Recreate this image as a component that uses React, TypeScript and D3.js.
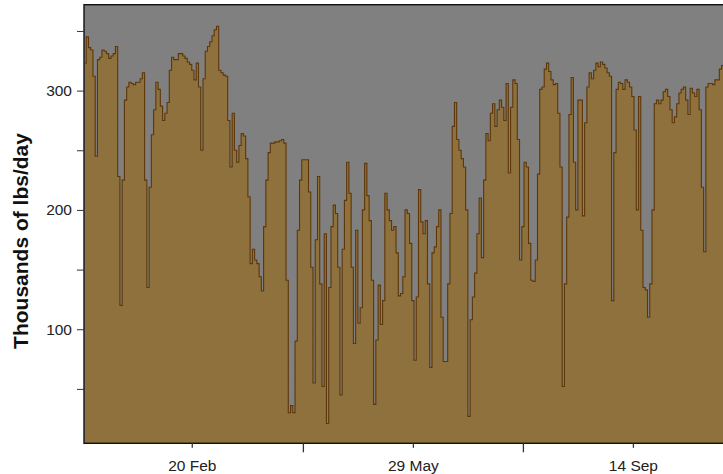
import * as d3 from "d3";
import { useEffect, useRef } from "react";

// daily values, thousands of lbs/day
const dailyValues: number[] = [
  323, 345, 336, 334, 312, 245, 326, 328, 334, 333, 331, 327, 329, 331, 337, 228, 120, 225, 292, 303,
  307, 306, 305, 307, 307, 310, 315, 225, 135, 219, 263, 284, 307, 301, 287, 275, 281, 290, 317, 328,
  326, 326, 331, 331, 329, 327, 324, 322, 317, 309, 323, 303, 250, 310, 333, 337, 341, 346, 351, 354,
  317, 315, 313, 312, 275, 236, 281, 250, 240, 254, 264, 262, 243, 211, 155, 167, 158, 155, 144, 132,
  186, 225, 248, 256, 256, 257, 257, 258, 259, 256, 141, 30, 36, 30, 90, 183, 225, 242, 242, 242,
  215, 152, 55, 175, 228, 138, 52, 180, 21, 135, 186, 204, 197, 152, 45, 167, 208, 240, 214, 152,
  88, 183, 105, 118, 200, 239, 212, 191, 141, 37, 91, 137, 104, 124, 214, 200, 191, 183, 186, 164,
  128, 130, 144, 200, 197, 172, 124, 74, 127, 217, 190, 180, 191, 138, 68, 164, 169, 186, 200, 110,
  73, 73, 138, 197, 270, 290, 259, 250, 243, 236, 200, 27, 108, 127, 147, 180, 210, 160, 225, 264,
  258, 281, 289, 270, 284, 292, 286, 275, 306, 231, 286, 309, 306, 259, 158, 186, 240, 236, 172, 141,
  140, 158, 230, 301, 303, 318, 323, 316, 309, 305, 306, 281, 236, 52, 138, 194, 280, 311, 240, 200,
  292, 292, 195, 273, 303, 315, 310, 317, 323, 320, 324, 322, 319, 315, 312, 124, 248, 301, 307, 306,
  301, 309, 307, 303, 295, 267, 200, 295, 183, 135, 133, 110, 138, 200, 289, 292, 289, 292, 299, 301,
  295, 284, 273, 278, 289, 298, 301, 303, 292, 280, 302, 298, 295, 301, 284, 219, 165, 303, 306, 306,
  305, 309, 309, 318, 321, 321,
];

const xTickIndex = [47.5, 97, 146, 195, 244];
const xTickLabels = ["20 Feb", "", "29 May", "", "14 Sep"];
const yTickValues = [50, 100, 150, 200, 250, 300, 350];
const yTickLabels = ["", "100", "", "200", "", "300", ""];

const App = () => {
  const chartRef = useRef<SVGSVGElement | null>(null);

  useEffect(() => {
    if (!chartRef.current) return;
    const svg = d3.select(chartRef.current);
    svg.selectAll("*").remove();

    const width = 723;
    const height = 474;
    const left = 84;
    const top = 4.7;
    const bottom = 443.3;
    const right = 728;

    const x = d3
      .scaleLinear()
      .domain([-0.5, dailyValues.length - 0.5])
      .range([left, left + 2.245 * dailyValues.length]);

    const y = d3.scaleLinear().domain([4.4, 372]).range([bottom, top]);

    svg.attr("width", width).attr("height", height);

    svg
      .append("defs")
      .append("clipPath")
      .attr("id", "plot-clip")
      .append("rect")
      .attr("x", left)
      .attr("y", top)
      .attr("width", right - left)
      .attr("height", bottom - top);

    svg
      .append("rect")
      .attr("x", left)
      .attr("y", top)
      .attr("width", right - left)
      .attr("height", bottom - top)
      .attr("fill", "#808080");

    const series = dailyValues.map((v, i) => ({ i, v }));

    const area = d3
      .area<{ i: number; v: number }>()
      .curve(d3.curveStep)
      .x((d) => x(d.i))
      .y0(bottom)
      .y1((d) => y(d.v));

    const line = d3
      .line<{ i: number; v: number }>()
      .curve(d3.curveStep)
      .x((d) => x(d.i))
      .y((d) => y(d.v));

    const plot = svg.append("g").attr("clip-path", "url(#plot-clip)");

    plot.append("path").datum(series).attr("d", area).attr("fill", "#8e713c");

    plot
      .append("path")
      .datum(series)
      .attr("d", line)
      .attr("fill", "none")
      .attr("stroke", "#5e3708")
      .attr("stroke-width", 1.1);

    svg
      .append("rect")
      .attr("x", left)
      .attr("y", top)
      .attr("width", right - left)
      .attr("height", bottom - top)
      .attr("fill", "none")
      .attr("stroke", "#111")
      .attr("stroke-width", 1.4);

    const yAxis = svg
      .append("g")
      .attr("transform", `translate(${left},0)`)
      .call(
        d3
          .axisLeft(y)
          .tickValues(yTickValues)
          .tickSize(7)
          .tickPadding(5)
          .tickFormat((_, k) => yTickLabels[k])
      );
    yAxis.select(".domain").remove();
    yAxis.selectAll("line").attr("stroke", "#333");
    yAxis
      .selectAll("text")
      .attr("font-family", "Liberation Sans, Arial, sans-serif")
      .attr("font-size", 15.5)
      .attr("fill", "#222");

    const xAxis = svg
      .append("g")
      .attr("transform", `translate(0,${bottom})`)
      .call(
        d3
          .axisBottom(x)
          .tickValues(xTickIndex)
          .tickSize(4)
          .tickPadding(13)
          .tickFormat((_, k) => xTickLabels[k])
      );
    xAxis.select(".domain").remove();
    xAxis
      .selectAll("line")
      .attr("stroke", "#333")
      .attr("stroke-width", 1.3)
      .attr("y2", (_, k) => (xTickLabels[k] ? 4.5 : 9));
    xAxis
      .selectAll("text")
      .attr("font-family", "Liberation Sans, Arial, sans-serif")
      .attr("font-size", 15.5)
      .attr("fill", "#222");

    svg
      .append("text")
      .attr("transform", `translate(28,${(top + bottom) / 2 + 17}) rotate(-90)`)
      .attr("text-anchor", "middle")
      .attr("font-family", "Liberation Sans, Arial, sans-serif")
      .attr("font-weight", "bold")
      .attr("font-size", 21)
      .attr("fill", "#111")
      .text("Thousands of lbs/day");
  }, []);

  return (
    <div style={{ position: "absolute", left: 0, top: 0 }}>
      <svg ref={chartRef} style={{ display: "block" }}></svg>
    </div>
  );
};

export default App;
